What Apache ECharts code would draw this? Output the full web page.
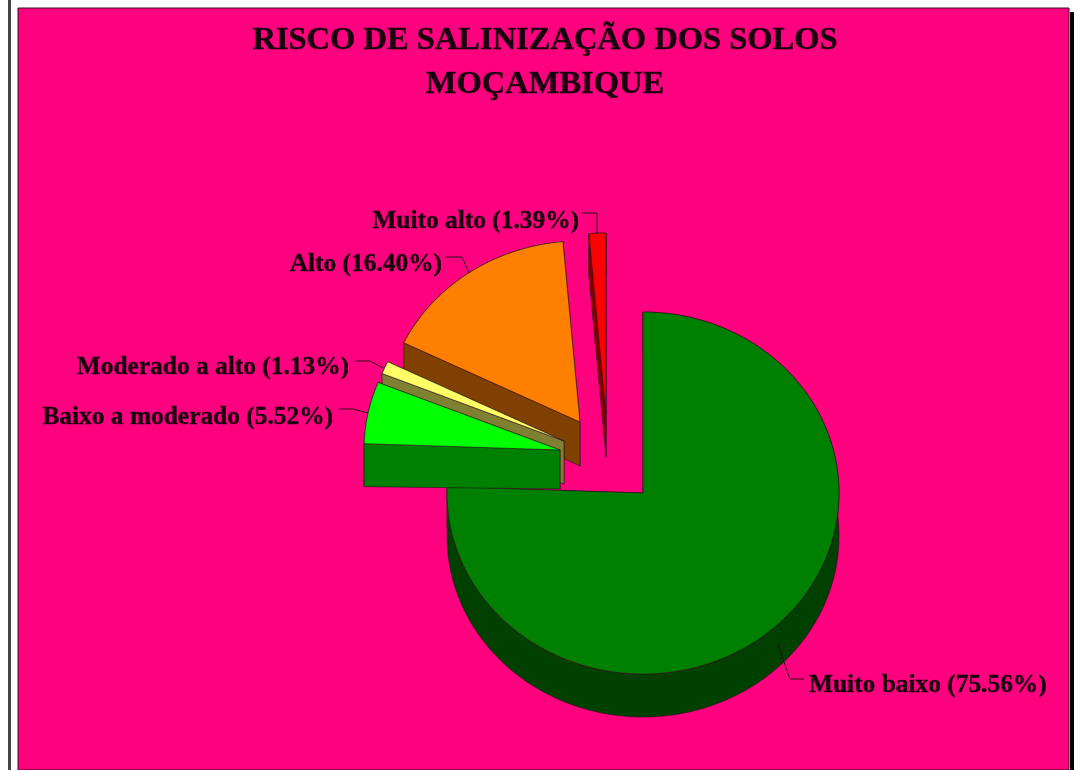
<!DOCTYPE html>
<html>
<head>
<meta charset="utf-8">
<title>Risco de salinização dos solos</title>
<script src="https://cdn.jsdelivr.net/npm/echarts@6/dist/echarts.min.js"></script>
<style>
  html, body { margin: 0; padding: 0; background: #fff; }
  #chart { width: 1078px; height: 770px; }
</style>
</head>
<body>
<div id="chart"></div>
<script>
// data
const categories = ['Muito baixo', 'Baixo a moderado', 'Moderado a alto', 'Alto', 'Muito alto'];
const shares = [75.56, 5.52, 1.13, 16.40, 1.39];
const topColors = ['#008000', '#00ff00', '#ffff66', '#ff8000', '#ff0000'];
const sideColors = ['#004000', '#008000', '#808033', '#804000', '#800000'];

// layout of the tilted pie
const pieX = 643, pieY = 493;
const radiusX = 196, radiusUp = 181, radiusDown = 181;
const depth = 43;
const explode = [[0, 0], [-83, -43], [-79, -52], [-63, -71], [-37, -79]];
const innerDepth = [43, 39, 43, 44, 43];
const paintOrder = [3, 7, 6, 5, 4]; // z2 of each slice, front ones last

// label text anchor (right or left edge) and leader line of each slice
const labelPos = [[809, 685, 'left'], [333, 417, 'right'], [349, 367, 'right'], [442, 264, 'right'], [579, 221, 'right']];
const leaders = [
  [[778, 645], [790, 679], [804, 679]],
  [[339, 409], [353, 409], [368, 413]],
  [[355, 361], [370, 361], [383, 368]],
  [[445, 257], [462, 257], [469, 273]],
  [[581, 213], [597, 213], [597, 233]]
];

const total = shares.reduce((a, b) => a + b, 0);
let running = 0;
const startAngles = shares.map(v => { const a = running / total * Math.PI * 2; running += v; return a; });

function rimPoint(cx, cy, angle) {
  const c = Math.cos(angle);
  return [cx + radiusX * Math.sin(angle), cy - c * (c > 0 ? radiusUp : radiusDown)];
}

function rim(cx, cy, a0, a1) {
  const pts = [];
  const steps = Math.max(4, Math.ceil((a1 - a0) * 60));
  for (let i = 0; i <= steps; i++) pts.push(rimPoint(cx, cy, a0 + (a1 - a0) * i / steps));
  return pts;
}

const edge = { stroke: 'rgba(42,15,28,0.75)', lineWidth: 0.8 };

function renderSlice(params, api) {
  const i = params.dataIndex;
  const sweep = api.value(0) / total * Math.PI * 2;
  const a0 = startAngles[i], a1 = a0 + sweep;
  const cx = pieX + explode[i][0], cy = pieY + explode[i][1];
  const z = paintOrder[i];
  const top = rim(cx, cy, a0, a1);
  const floor = rim(cx, cy + depth, a0, a1);
  const centre = [cx, cy], centreLow = [cx, cy + innerDepth[i]];
  const sideStyle = Object.assign({ fill: sideColors[i] }, edge);
  const poly = (points, style) => ({ type: 'polygon', z2: z, shape: { points }, style });
  return {
    type: 'group',
    children: [
      poly(top.concat(floor.slice().reverse()), sideStyle),
      poly([centre, top[top.length - 1], floor[floor.length - 1], centreLow], sideStyle),
      poly([centre, top[0], floor[0], centreLow], sideStyle),
      poly([centre].concat(top), Object.assign({ fill: topColors[i] }, edge)),
      { type: 'polyline', z2: 20, shape: { points: leaders[i] }, style: { stroke: '#2a0f1c', lineWidth: 1, fill: null } },
      {
        type: 'text', z2: 20, x: labelPos[i][0], y: labelPos[i][1],
        style: {
          text: api.value(1) + ' (' + api.value(0).toFixed(2) + '%)',
          font: 'bold 25.4px "Liberation Serif"', fill: '#1a0010',
          stroke: '#1a0010', lineWidth: 0.4,
          align: labelPos[i][2], verticalAlign: 'middle'
        }
      }
    ]
  };
}

const chart = echarts.init(document.getElementById('chart'));
chart.setOption({
  animation: false,
  backgroundColor: '#ffffff',
  graphic: [
    { type: 'rect', z: -2, shape: { x: 8, y: 0, width: 3, height: 770 }, style: { fill: '#444444' } },
    { type: 'rect', z: -2, shape: { x: 1070, y: 12, width: 4, height: 758 }, style: { fill: '#000000' } },
    { type: 'rect', z: -1, shape: { x: 18, y: 8, width: 1051, height: 762 }, style: { fill: '#ff007f', stroke: '#3a0f22', lineWidth: 1 } }
  ],
  title: {
    text: 'RISCO DE SALINIZAÇÃO DOS SOLOS\nMOÇAMBIQUE',
    left: 540, top: 14, textAlign: 'center',
    textStyle: {
      fontFamily: 'Liberation Serif', fontWeight: 'bold', fontSize: 32.5, lineHeight: 44, color: '#1a0010',
      textBorderColor: '#1a0010', textBorderWidth: 0.5
    }
  },
  series: [{
    type: 'custom',
    coordinateSystem: 'none',
    silent: true,
    encode: { value: 0 },
    dimensions: ['share', { name: 'category', type: 'ordinal' }],
    data: shares.map((v, i) => [v, categories[i]]),
    renderItem: renderSlice
  }]
});
</script>
</body>
</html>
